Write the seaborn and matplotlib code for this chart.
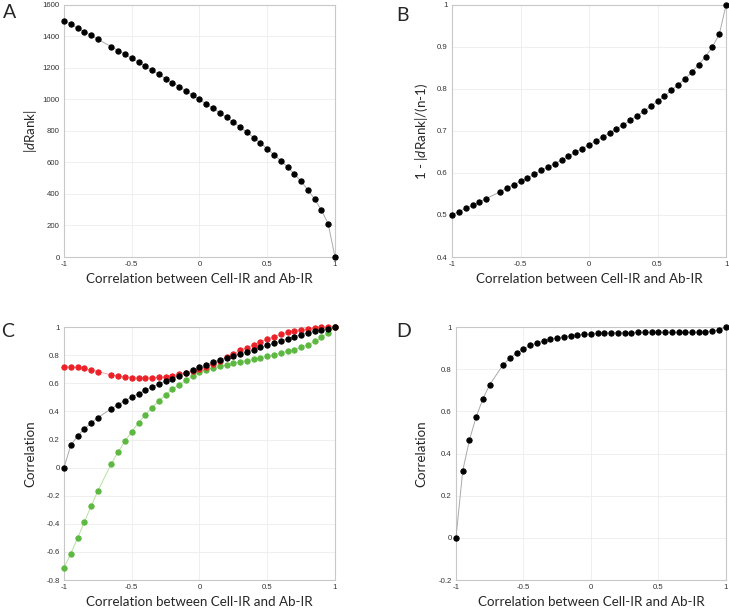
import matplotlib
matplotlib.use("Agg")
import pandas as pd
import seaborn as sns
import matplotlib.pyplot as plt

sns.set_style("whitegrid")
plt.rcParams['font.family'] = ['Lato', 'DejaVu Sans']
plt.rcParams['mathtext.fontset'] = 'custom'
plt.rcParams['mathtext.it'] = 'Lato:italic'
plt.rcParams['mathtext.rm'] = 'Lato'

# x 轴：相关系数（-0.7 处没有点）
r = [-1, -0.95, -0.9, -0.85, -0.8, -0.75, -0.65, -0.6, -0.55, -0.5, -0.45, -0.4,
     -0.35, -0.3, -0.25, -0.2, -0.15, -0.1, -0.05, 0, 0.05, 0.1, 0.15, 0.2, 0.25,
     0.3, 0.35, 0.4, 0.45, 0.5, 0.55, 0.6, 0.65, 0.7, 0.75, 0.8, 0.85, 0.9, 0.95, 1]

# A: |dRank|
drank = [1500, 1478, 1454, 1430, 1407, 1382, 1335, 1310, 1287, 1261, 1236, 1211,
         1185, 1160, 1132, 1107, 1082, 1054, 1027, 1000, 972, 944, 916, 886, 856,
         824, 792, 758, 724, 688, 650, 612, 572, 527, 480, 426, 367, 298, 210, 0]

# B: 1 - |dRank|/(n-1)
drank_norm = [0.500, 0.508, 0.516, 0.523, 0.531, 0.539, 0.555, 0.564, 0.572, 0.580,
              0.588, 0.597, 0.606, 0.614, 0.622, 0.631, 0.640, 0.649, 0.658, 0.667,
              0.676, 0.686, 0.695, 0.705, 0.715, 0.725, 0.736, 0.747, 0.759, 0.771,
              0.783, 0.797, 0.810, 0.824, 0.840, 0.858, 0.877, 0.900, 0.930, 1.0]

# C: 三条相关曲线
corr_black = [0.0, 0.159, 0.225, 0.275, 0.318, 0.356, 0.420, 0.448, 0.477, 0.503,
              0.526, 0.550, 0.574, 0.595, 0.616, 0.633, 0.654, 0.673, 0.694, 0.713,
              0.732, 0.751, 0.768, 0.780, 0.794, 0.810, 0.822, 0.839, 0.856, 0.870,
              0.884, 0.900, 0.915, 0.931, 0.946, 0.960, 0.969, 0.981, 0.990, 1.0]
corr_red = [0.716, 0.716, 0.713, 0.706, 0.694, 0.683, 0.659, 0.652, 0.645, 0.640,
            0.638, 0.638, 0.640, 0.642, 0.647, 0.654, 0.664, 0.673, 0.685, 0.700,
            0.718, 0.739, 0.761, 0.787, 0.808, 0.834, 0.853, 0.874, 0.896, 0.912,
            0.931, 0.948, 0.962, 0.974, 0.981, 0.988, 0.995, 0.998, 1.0, 1.0]
corr_green = [-0.712, -0.613, -0.502, -0.388, -0.274, -0.165, 0.029, 0.112, 0.188,
              0.256, 0.320, 0.375, 0.427, 0.474, 0.519, 0.557, 0.590, 0.621, 0.652,
              0.678, 0.697, 0.709, 0.720, 0.730, 0.742, 0.754, 0.761, 0.770, 0.782,
              0.792, 0.803, 0.815, 0.827, 0.839, 0.856, 0.874, 0.898, 0.927, 0.960, 1.0]

# D
corr_d = [0.0, 0.319, 0.465, 0.575, 0.660, 0.727, 0.822, 0.853, 0.877, 0.896,
          0.913, 0.924, 0.934, 0.942, 0.948, 0.954, 0.959, 0.962, 0.965, 0.968,
          0.970, 0.972, 0.973, 0.973, 0.974, 0.974, 0.975, 0.975, 0.975, 0.975,
          0.975, 0.975, 0.975, 0.975, 0.975, 0.976, 0.977, 0.980, 0.987, 1.0]

xlabel = 'Correlation between Cell-IR and Ab-IR'

fig = plt.figure(figsize=(7.29, 6.08), dpi=100)
axA = fig.add_axes([0.0878, 0.5773, 0.3717, 0.4145])
axB = fig.add_axes([0.620, 0.5773, 0.376, 0.4145])
axC = fig.add_axes([0.0878, 0.046, 0.3717, 0.416])
axD = fig.add_axes([0.6255, 0.046, 0.370, 0.416])


def draw(ax, y, line_col='#aaaaaa', dot_col='black'):
    sns.lineplot(x=r, y=y, ax=ax, color=line_col, linewidth=0.7, marker='o',
                 markersize=3.8, markerfacecolor=dot_col, markeredgecolor=dot_col,
                 estimator=None, sort=False, clip_on=False, zorder=3)


def style(ax, ylim, yticks, yticklabels, ylab, ylab_x):
    ax.set_xlim(-1, 1)
    ax.set_ylim(*ylim)
    ax.set_xticks([-1, -0.5, 0, 0.5, 1])
    ax.set_xticklabels(['-1', '-0.5', '0', '0.5', '1'])
    ax.set_yticks(yticks)
    ax.set_yticklabels(yticklabels)
    ax.tick_params(axis='both', labelsize=5.6, colors='#333333', length=0, pad=3)
    for tl in ax.get_xticklabels() + ax.get_yticklabels():
        tl.set_family(['Liberation Sans'])
    ax.grid(True, color='#ececec', linewidth=0.6)
    for s in ax.spines.values():
        s.set_color('#c8c8c8')
        s.set_linewidth(0.8)
    ax.set_xlabel(xlabel, fontsize=9.6, va='center')
    ax.xaxis.set_label_coords(0.5, -0.086)
    ax.set_ylabel(ylab, fontsize=9.6, va='center')
    ax.yaxis.set_label_coords(ylab_x, 0.5)


draw(axA, drank)
style(axA, (0, 1600), range(0, 1601, 200), [str(v) for v in range(0, 1601, 200)],
      '|$d$Rank|', -0.125)

draw(axB, drank_norm)
style(axB, (0.4, 1.0), [0.4, 0.5, 0.6, 0.7, 0.8, 0.9, 1.0],
      ['0.4', '0.5', '0.6', '0.7', '0.8', '0.9', '1'], '1 - |$d$Rank|/(n-1)', -0.113)

draw(axC, corr_green, line_col='#b5e0a0', dot_col='#5cb840')
draw(axC, corr_red, line_col='#f6aaaa', dot_col='#ec2027')
draw(axC, corr_black)
cticks = [-0.8, -0.6, -0.4, -0.2, 0, 0.2, 0.4, 0.6, 0.8, 1]
style(axC, (-0.8, 1.0), cticks,
      ['-0.8', '-0.6', '-0.4', '-0.2', '0', '0.2', '0.4', '0.6', '0.8', '1'],
      'Correlation', -0.125)

draw(axD, corr_d)
dticks = [-0.2, 0, 0.2, 0.4, 0.6, 0.8, 1]
style(axD, (-0.2, 1.0), dticks, ['-0.2', '0', '0.2', '0.4', '0.6', '0.8', '1'],
      'Correlation', -0.13)

for lab, x, y in [('A', 0.004, 0.98), ('B', 0.544, 0.975), ('C', 0.002, 0.455), ('D', 0.544, 0.455)]:
    fig.text(x, y, lab, fontsize=14, ha='left', va='center')

fig.savefig('out.png', dpi=100)
